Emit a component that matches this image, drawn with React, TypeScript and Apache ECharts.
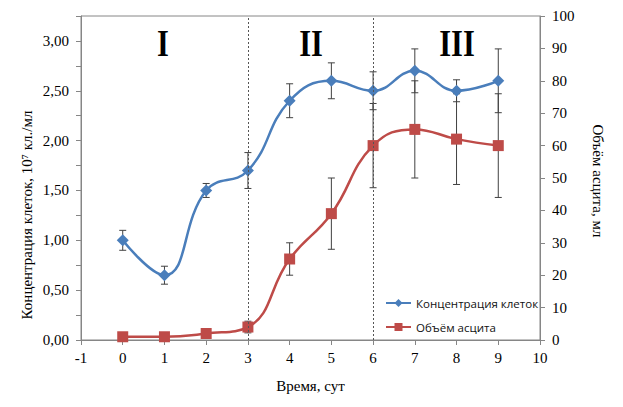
import React, { useEffect, useRef } from "react";
import * as echarts from "echarts";

const days = [0, 1, 2, 3, 4, 5, 6, 7, 8, 9];
const concentration = [1.0, 0.65, 1.5, 1.7, 2.4, 2.6, 2.5, 2.7, 2.5, 2.6];
const concentrationErr = [0.1, 0.09, 0.07, 0.18, 0.17, 0.18, 0.19, 0.22, 0.11, 0.32];
const ascites = [1, 1, 2, 4, 25, 39, 60, 65, 62, 60];
const ascitesErr = [0, 0, 0, 1.8, 5, 11, 13, 15, 14, 16];
const phaseBounds = [3, 6];
const phaseLabels = ["I", "II", "III"];

const serif = "'Liberation Serif', 'Times New Roman', serif";
const BLUE = "#4a7ebb";
const RED = "#be4b48";
const AXIS = "#868686";

const errData = (vals: number[], errs: number[]) =>
  days
    .map((d, i) => [d, vals[i] - errs[i], vals[i] + errs[i], errs[i]])
    .filter((r) => r[3] > 0);

const renderErr = (params: any, api: any) => {
  const x = api.value(0);
  const top = api.coord([x, api.value(2)]);
  const bot = api.coord([x, api.value(1)]);
  const w = 3.5;
  const style = { stroke: "#404040", lineWidth: 1 };
  return {
    type: "group",
    children: [
      { type: "line", shape: { x1: top[0], y1: top[1], x2: bot[0], y2: bot[1] }, style },
      { type: "line", shape: { x1: top[0] - w, y1: top[1], x2: top[0] + w, y2: top[1] }, style },
      { type: "line", shape: { x1: bot[0] - w, y1: bot[1], x2: bot[0] + w, y2: bot[1] }, style },
    ],
  };
};

const App = () => {
  const chartRef = useRef<HTMLDivElement>(null);

  useEffect(() => {
    const myChart = echarts.init(chartRef.current!, null, { renderer: "svg" });
    const phaseX = [163, 311, 457];
    const option = {
      animation: false,
      grid: {
        left: 81,
        right: 83,
        top: 16,
        bottom: 67,
        show: true,
        borderColor: AXIS,
        borderWidth: 1,
      },
      legend: {
        data: ["Концентрация клеток", "Объём асцита"],
        orient: "vertical",
        left: 380,
        top: 292,
        itemWidth: 25,
        itemHeight: 10,
        itemGap: 12,
        textStyle: { fontFamily: "'Open Sans', sans-serif", fontSize: 11.5, color: "#111" },
      },
      xAxis: {
        type: "value",
        min: -1,
        max: 10,
        interval: 1,
        name: "Время, сут",
        nameLocation: "middle",
        nameGap: 38,
        nameTextStyle: { fontFamily: serif, fontSize: 15, color: "#000" },
        axisLine: { lineStyle: { color: AXIS } },
        axisTick: { lineStyle: { color: AXIS }, length: 5 },
        axisLabel: { fontFamily: serif, fontSize: 15, color: "#000", margin: 10 },
        splitLine: { show: false },
      },
      yAxis: [
        {
          type: "value",
          min: 0,
          max: 3.25,
          interval: 0.25,
          axisLine: { show: true, onZero: false, lineStyle: { color: AXIS } },
          axisTick: { show: true, lineStyle: { color: AXIS }, length: 5 },
          axisLabel: {
            fontFamily: serif,
            fontSize: 15,
            color: "#000",
            margin: 12,
            formatter: (v: number) =>
              Math.abs(v * 2 - Math.round(v * 2)) < 1e-6 ? v.toFixed(2).replace(".", ",") : "",
          },
          splitLine: { show: false },
        },
        {
          type: "value",
          min: 0,
          max: 100,
          interval: 10,
          position: "right",
          axisLine: { show: true, onZero: false, lineStyle: { color: AXIS } },
          axisTick: { show: true, lineStyle: { color: AXIS }, length: 5 },
          axisLabel: { fontFamily: serif, fontSize: 15, color: "#000", margin: 12 },
          splitLine: { show: false },
        },
      ],
      graphic: [
        {
          type: "text",
          x: 27,
          y: 215,
          rotation: Math.PI / 2,
          style: {
            text: "Концентрация клеток, 10⁷ кл./мл",
            fontFamily: serif,
            fontSize: 15,
            fill: "#000",
            textAlign: "center",
            textVerticalAlign: "middle",
          },
        },
        {
          type: "text",
          x: 598,
          y: 181,
          rotation: -Math.PI / 2,
          style: {
            text: "Объём асцита, мл",
            fontFamily: serif,
            fontSize: 15,
            fill: "#000",
            textAlign: "center",
            textVerticalAlign: "middle",
          },
        },
        ...phaseLabels.map((t, i) => ({
          type: "text",
          x: phaseX[i],
          y: 43,
          scaleX: 0.8,
          style: {
            text: t,
            fontFamily: serif,
            fontWeight: "bold",
            fontSize: 38,
            fill: "#000",
            textAlign: "center",
            textVerticalAlign: "middle",
          },
        })),
      ],
      series: [
        {
          type: "custom",
          name: "errConc",
          yAxisIndex: 0,
          z: 1,
          renderItem: renderErr,
          data: errData(concentration, concentrationErr),
          encode: { x: 0, y: [1, 2] },
          silent: true,
        },
        {
          type: "custom",
          name: "errAsc",
          yAxisIndex: 1,
          z: 1,
          renderItem: renderErr,
          data: errData(ascites, ascitesErr),
          encode: { x: 0, y: [1, 2] },
          silent: true,
        },
        {
          name: "Концентрация клеток",
          type: "line",
          yAxisIndex: 0,
          z: 3,
          smooth: 0.45,
          symbol: "diamond",
          symbolSize: 12,
          data: days.map((d, i) => [d, concentration[i]]),
          lineStyle: { color: BLUE, width: 2.5 },
          itemStyle: { color: BLUE },
          markLine: {
            silent: true,
            symbol: "none",
            label: { show: false },
            lineStyle: { color: "#555", type: [2, 2], width: 1 },
            data: phaseBounds.map((b) => ({ xAxis: b })),
          },
        },
        {
          name: "Объём асцита",
          type: "line",
          yAxisIndex: 1,
          z: 3,
          smooth: 0.45,
          symbol: "rect",
          symbolSize: 11,
          data: days.map((d, i) => [d, ascites[i]]),
          lineStyle: { color: RED, width: 2.5 },
          itemStyle: { color: RED },
        },
      ],
    };
    myChart.setOption(option);
    return () => {
      myChart.dispose();
    };
  }, []);

  return (
    <div
      ref={chartRef}
      style={{ position: "fixed", left: 0, top: 0, width: 623, height: 407, background: "#fff" }}
    ></div>
  );
};

export default App;
